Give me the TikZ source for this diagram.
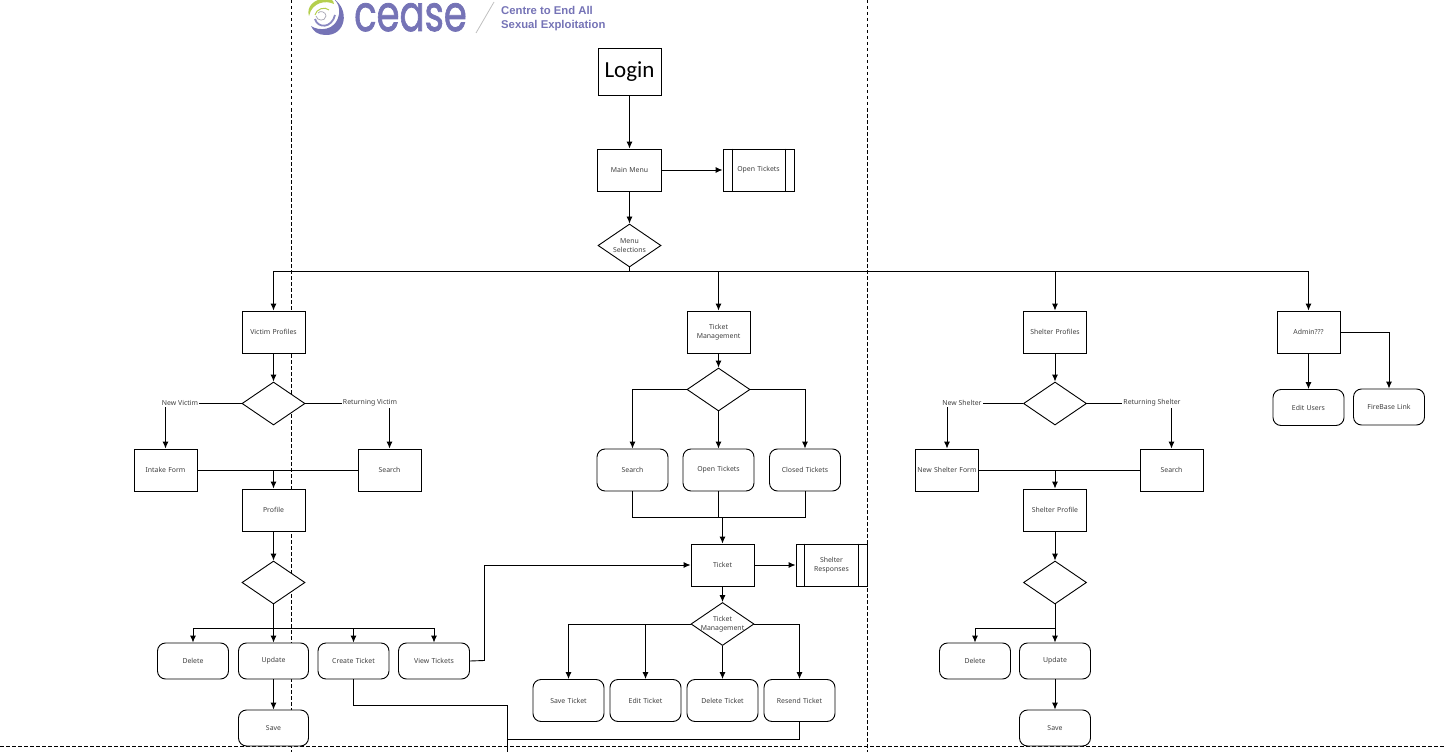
\documentclass[tikz,border=0pt]{standalone}
\usepackage{fontspec}
\setmainfont{Noto Sans}
\newfontfamily\logofont[FakeBold=1.6]{Poppins}
\newfontfamily\logosub{Liberation Sans}
\newfontfamily\loginfont{Carlito}
\usetikzlibrary{arrows.meta,shapes.geometric,calc}
\hyphenpenalty=10000
\definecolor{ceasep}{HTML}{7573B6}
\definecolor{ceaseg}{HTML}{B5CF4E}
\tikzset{
  x=1pt,y=-1pt,
  lane/.style={line width=0.8pt,dash pattern=on 3.5pt off 2.5pt},
  conn/.style={line width=0.9pt},
  arr/.style={conn,-{Latex[length=7pt,width=6pt]}},
  lbl/.style={font=\fontsize{6.9}{9}\selectfont,text=black!75,align=center,inner sep=0pt},
  tag/.style={lbl,fill=white,inner xsep=1pt,inner ysep=2pt},
  flow/.style={lbl,draw=black,line width=0.9pt,fill=white,minimum width=#1,text width=#1-2pt},
  box/.style={flow=63pt,rectangle,minimum height=42pt},
  rbox/.style={flow=71pt,rectangle,rounded corners=8pt,minimum height=36pt},
  tbox/.style={flow=71pt,rectangle,rounded corners=8pt,minimum height=42pt},
  sbox/.style={flow=71pt,rectangle,minimum height=42pt},
  dia/.style={flow=30pt,diamond,aspect=1.48,inner sep=-7pt,minimum width=63pt,minimum height=43pt,text width=48pt},
}
\begin{document}
\begin{tikzpicture}
\useasboundingbox (0,0) rectangle (1444,752);
% logo
\begin{scope}
\clip (280,0) rectangle (620,50);
\fill[ceasep] (334,-1) .. controls (350,10) and (346,36) .. (325,35) .. controls (318,35) and (313,31) .. (311,26) .. controls (318,31) and (336,32) .. (339,14) .. controls (340,8) and (338,3) .. (334,-1) -- cycle;
\fill[ceaseg] (309,16) .. controls (306,7) and (314,-1) .. (324,-1) -- (331,-1) .. controls (333,1) and (334,2) .. (334,4) .. controls (326,0) and (312,2) .. (309,16) -- cycle;
\draw[ceasep!85,line width=1.8pt] (315,19) .. controls (318,29) and (332,28) .. (335,15);
\draw[ceaseg,line width=1pt] (315,15) .. controls (316,9) and (325,6) .. (329,10);
\draw[ceasep!45!black!45,line width=0.7pt] (316,16) .. controls (317,21) and (325,22) .. (326,16) .. controls (326,12) and (320,10) .. (318,13);
\node[anchor=base west,inner sep=0pt,text=ceasep,font=\logofont\fontsize{50}{50}\selectfont,transform shape,xscale=0.74] (logo) at (354,31) {cease};
\draw[black!25,line width=0.8pt] (494,2) -- (476,33);
\node[anchor=base west,inner sep=0pt,text=ceasep,font=\logosub\bfseries\fontsize{11.3}{12}\selectfont] (logoa) at (501,14.5) {Centre to End All};
\node[anchor=base west,inner sep=0pt,text=ceasep,font=\logosub\bfseries\fontsize{11.3}{12}\selectfont] (logob) at (501,28.5) {Sexual Exploitation};
\end{scope}
% lanes
\coordinate (l1t) at (291,0); \coordinate (l1b) at (291,752);
\coordinate (l2t) at (867,0); \coordinate (l2b) at (867,752);
\coordinate (l3l) at (0,746); \coordinate (l3r) at (1444,746);
\draw[lane] (l1t) -- (l1b);
\draw[lane] (l2t) -- (l2b);
\draw[lane] (l3l) -- (l3r);
% top
\node[box,font=\loginfont\fontsize{23}{26}\selectfont,text=black,minimum height=47pt,text width=60pt] (login) at (629.5,71.5) {Login};
\node[box,minimum width=64pt] (main) at (629.5,170) {Main Menu};
\node[sbox] (opent) at (758.5,170) {Open Tickets};
\draw[conn] ($(opent.north west)+(10,0)$) -- ($(opent.south west)+(10,0)$);
\draw[conn] ($(opent.north east)+(-9,0)$) -- ($(opent.south east)+(-9,0)$);
\node[dia] (menu) at (629.5,245.5) {Menu\\Selections};
% second level
\node[box] (victim) at (273.5,332) {Victim Profiles};
\node[box] (tmgmt) at (718.5,332) {Ticket\\Management};
\node[box] (shelter) at (1055,332) {Shelter Profiles};
\node[box] (admin) at (1308.5,332) {Admin???};
% victim
\node[dia] (vd) at (273.5,403.5) {};
\node[box] (intake) at (165.5,470) {Intake Form};
\node[box] (vsearch) at (389.5,470) {Search};
\node[box] (vprofile) at (273.5,510) {Profile};
\node[dia] (vd2) at (273.5,582.5) {};
\node[rbox] (vdelete) at (193,661) {Delete};
\node[rbox,minimum width=70pt] (vupdate) at (273.5,661) {Update};
\node[rbox] (vcreate) at (353.5,661) {Create Ticket};
\node[rbox] (vview) at (434,661) {View Tickets};
\node[rbox,minimum width=70pt] (vsave) at (273.5,728) {Save};
% tickets
\node[dia] (td) at (718.5,389.5) {};
\node[tbox] (tsearch) at (632.5,470) {Search};
\node[tbox] (topen) at (718.5,470) {Open Tickets};
\node[tbox] (tclosed) at (805,470) {Closed Tickets};
\node[box] (ticket) at (722.5,565) {Ticket};
\node[sbox] (sresp) at (831.5,565) {Shelter\\Responses};
\draw[conn] ($(sresp.north west)+(9,0)$) -- ($(sresp.south west)+(9,0)$);
\draw[conn] ($(sresp.north east)+(-9,0)$) -- ($(sresp.south east)+(-9,0)$);
\node[dia] (td2) at (722.5,624) {Ticket\\Management};
\node[tbox] (tsave) at (568.5,700.5) {Save Ticket};
\node[tbox] (tedit) at (645.5,700.5) {Edit Ticket};
\node[tbox] (tdelete) at (722.5,700.5) {Delete Ticket};
\node[tbox] (tresend) at (799.5,700.5) {Resend Ticket};
% shelter
\node[dia] (sd) at (1055,403.5) {};
\node[box] (sform) at (947,470) {New Shelter Form};
\node[box] (ssearch) at (1171.5,470) {Search};
\node[box] (sprofile) at (1055,510) {Shelter Profile};
\node[dia] (sd2) at (1055,582.5) {};
\node[rbox] (sdelete) at (975,661) {Delete};
\node[rbox] (supdate) at (1055,661) {Update};
\node[rbox] (ssave) at (1055,728) {Save};
% admin
\node[rbox] (users) at (1308.5,407.5) {Edit Users};
\node[rbox] (fire) at (1389,407) {FireBase Link};
% connectors top
\draw[arr] (login) -- (main);
\draw[arr] (main) -- (opent);
\draw[arr] (main) -- (menu);
\coordinate (bus) at (629.5,271);
\draw[conn] (menu.south) -- (bus);
\draw[arr] (bus) -| (victim.north);
\draw[arr] (bus) -| (tmgmt.north);
\draw[arr] (bus) -| (shelter.north);
\draw[arr] (bus) -| (admin.north);
% victim connectors
\draw[arr] (victim) -- (vd);
\draw[arr] (vd.west) -| (intake.north);
\draw[arr] (vd.east) -| (vsearch.north);
\node[tag] (tnv) at (180,402.5) {New Victim};
\node[tag] (trv) at (370,402.5) {Returning Victim};
\draw[conn] (intake.east) -- (vsearch.west);
\coordinate (vj) at (273.5,470);
\draw[arr] (vj) -- (vprofile);
\draw[arr] (vprofile) -- (vd2);
\coordinate (vbus) at (273.5,628.5);
\draw[arr] (vd2.south) -- (vupdate.north);
\draw[arr] (vbus) -| (vdelete.north);
\draw[arr] (vbus) -| (vcreate.north);
\draw[arr] (vbus) -| (vview.north);
\draw[arr] (vupdate) -- (vsave);
\coordinate (vr) at (484,660.5);
\draw[conn] (vview.east) -- (vr);
\draw[arr] (vr) |- (ticket.west);
\coordinate (cj) at (507,705);
\coordinate (cb) at (507,752);
\draw[conn] (vcreate.south) |- (cj) -- (cb);
\coordinate (rj) at (507,739);
\draw[conn] (tresend.south) |- (rj);
% ticket connectors
\draw[arr] (tmgmt) -- (td);
\draw[arr] (td.west) -| (tsearch.north);
\draw[arr] (td.south) -- (topen.north);
\draw[arr] (td.east) -| (tclosed.north);
\coordinate (tbus) at (722.5,517);
\draw[conn] (tsearch.south) |- (tbus);
\draw[conn] (tclosed.south) |- (tbus);
\draw[conn] (topen.south) |- (tbus);
\draw[arr] (tbus) -- (ticket.north);
\draw[arr] (ticket) -- (sresp);
\draw[arr] (ticket) -- (td2);
\draw[arr] (td2.west) -| (tsave.north);
\draw[arr] (td2.west) -| (tedit.north);
\draw[arr] (td2.south) -- (tdelete.north);
\draw[arr] (td2.east) -| (tresend.north);
% shelter connectors
\draw[arr] (shelter) -- (sd);
\draw[arr] (sd.west) -| (sform.north);
\draw[arr] (sd.east) -| (ssearch.north);
\node[tag] (tns) at (962,402.5) {New Shelter};
\node[tag] (trs) at (1152,402.5) {Returning Shelter};
\draw[conn] (sform.east) -- (ssearch.west);
\coordinate (sj) at (1055,470);
\draw[arr] (sj) -- (sprofile);
\draw[arr] (sprofile) -- (sd2);
\coordinate (sbus) at (1055,628.5);
\draw[arr] (sd2.south) -- (supdate.north);
\draw[arr] (sbus) -| (sdelete.north);
\draw[arr] (supdate) -- (ssave);
% admin connectors
\draw[arr] (admin) -- (users);
\draw[arr] (admin.east) -| (fire.north);
\end{tikzpicture}
\end{document}
